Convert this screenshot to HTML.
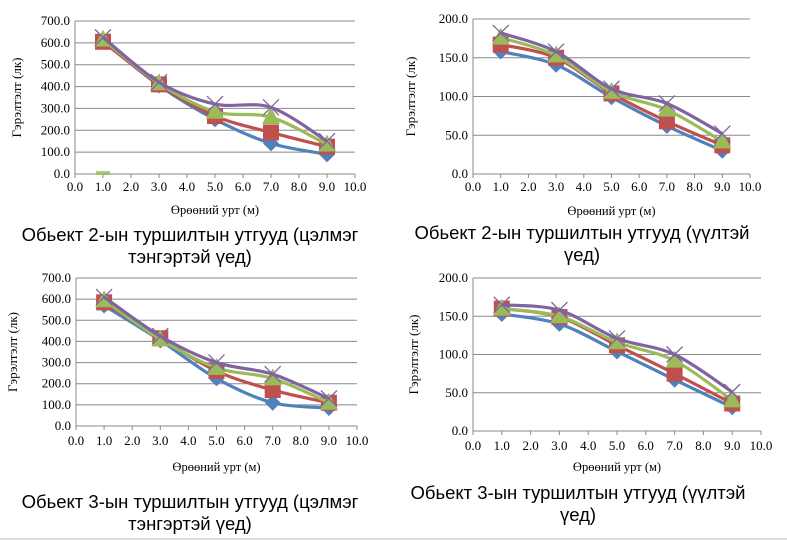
<!DOCTYPE html>
<html><head><meta charset="utf-8"><style>
body{margin:0;background:#fff;width:787px;height:541px;overflow:hidden;position:relative}
svg{position:absolute;left:0;top:0}
.t{font-family:"Liberation Serif","DejaVu Serif",serif}
.c{font-family:"Liberation Sans","DejaVu Sans",sans-serif}
</style></head><body>
<svg id="s" width="787" height="541" xmlns="http://www.w3.org/2000/svg"></svg>
<script>
const S=document.getElementById('s');let h='';
const cols=['#4f81bd','#c0504d','#9bbb59','#8064a2'];
function chart(c){
 const {L,R,T,B,max,step,data,xl,xt,cap,cy,capx}=c;
 const X=v=>L+(R-L)*v/10, Y=v=>B-(B-T)*v/max;
 for(let v=0;v<=max+1e-9;v+=step){const y=Y(v);
  h+=`<line x1="${L}" x2="${R}" y1="${y}" y2="${y}" stroke="#888" stroke-width="1"/>`;
  h+=`<text class="t" x="${L-5}" y="${y+4}" text-anchor="end" font-size="13">${v.toFixed(1)}</text>`;}
 h+=`<line x1="${L}" x2="${L}" y1="${T}" y2="${B}" stroke="#888"/>`;
 for(let i=0;i<=10;i++){const x=X(i);h+=`<line x1="${x}" x2="${x}" y1="${B}" y2="${B+4}" stroke="#888"/>`;
  h+=`<text class="t" x="${x}" y="${xl}" text-anchor="middle" font-size="13">${i.toFixed(1)}</text>`;}
 h+=`<text class="t" x="${(L+R)/2}" y="${xt}" text-anchor="middle" font-size="12.5">Өрөөний урт (м)</text>`;
 h+=`<text class="t" transform="translate(${c.yx},${(T+B)/2}) rotate(-90)" text-anchor="middle" font-size="13">Гэрэлтэлт (лк)</text>`;
 const xs=[1,3,5,7,9];
 data.forEach((d,k)=>{const p=xs.map((x,i)=>[X(x),Y(d[i])]);
  let path=`M${p[0][0]},${p[0][1]}`;
  for(let i=0;i<p.length-1;i++){const p0=p[i-1]||p[i],p1=p[i],p2=p[i+1],p3=p[i+2]||p2;
   const t=0.16;path+=` C${p1[0]+(p2[0]-p0[0])*t},${p1[1]+(p2[1]-p0[1])*t} ${p2[0]-(p3[0]-p1[0])*t},${p2[1]-(p3[1]-p1[1])*t} ${p2[0]},${p2[1]}`;}
  h+=`<path d="${path}" fill="none" stroke="${cols[k]}" stroke-width="3.2"/>`;
  p.forEach(([x,y])=>{const c=cols[k];
   if(k==0)h+=`<path d="M${x},${y-8}L${x+8},${y}L${x},${y+8}L${x-8},${y}Z" fill="${c}"/>`;
   if(k==1)h+=`<rect x="${x-8}" y="${y-8}" width="16" height="16" fill="${c}"/>`;
   if(k==2)h+=`<path d="M${x},${y-10}L${x+9},${y+7}L${x-9},${y+7}Z" fill="${c}"/>`;
   if(k==3)h+=`<path d="M${x-8},${y-8}L${x+8},${y+8}M${x+8},${y-8}L${x-8},${y+8}" stroke="${c}" stroke-width="1.3"/>`;});
 });
 cap.forEach((t,i)=>h+=`<text class="c" x="${capx}" y="${cy+i*22}" text-anchor="middle" font-size="18.5">${t}</text>`);
 if(c.bar)h+=`<rect x="${X(1)-7}" y="${B-3}" width="14" height="4" fill="#9bbb59" opacity="0.8"/>`;
}
chart({L:75,R:355,T:21,B:174,max:700,step:100,yx:21,xl:191,xt:214,cy:241,capx:190,bar:1,
 data:[[610,405,250,140,90],[605,410,265,190,125],[615,415,285,260,135],[625,420,320,305,150]],
 cap:['Обьект 2-ын туршилтын утгууд (цэлмэг','тэнгэртэй үед)']});
chart({L:473,R:750,T:19,B:174,max:200,step:50,yx:415,xl:191,xt:215,cy:239,capx:582,
 data:[[158,141,99,62,30],[167,150,104,68,37],[176,153,106,83,42],[182,158,110,91,52]],
 cap:['Обьект 2-ын туршилтын утгууд (үүлтэй','үед)']});
chart({L:76,R:357,T:278,B:426,max:700,step:100,yx:17,xl:445,xt:471,cy:508,capx:190,
 data:[[570,405,225,110,85],[585,415,260,170,110],[595,410,275,225,110],[610,425,300,245,130]],
 cap:['Обьект 3-ын туршилтын утгууд (цэлмэг','тэнгэртэй үед)']});
chart({L:473,R:761,T:278,B:431,max:200,step:50,yx:418,xl:450,xt:471,cy:499,capx:578,
 data:[[153,140,104,67,31],[160,149,112,75,36],[160,150,116,92,40],[165,158,121,100,51]],
 cap:['Обьект 3-ын туршилтын утгууд (үүлтэй','үед)']});
h+=`<line x1="0" x2="787" y1="539" y2="539" stroke="#bbb"/>`;
S.innerHTML=h;
</script>
</body></html>
